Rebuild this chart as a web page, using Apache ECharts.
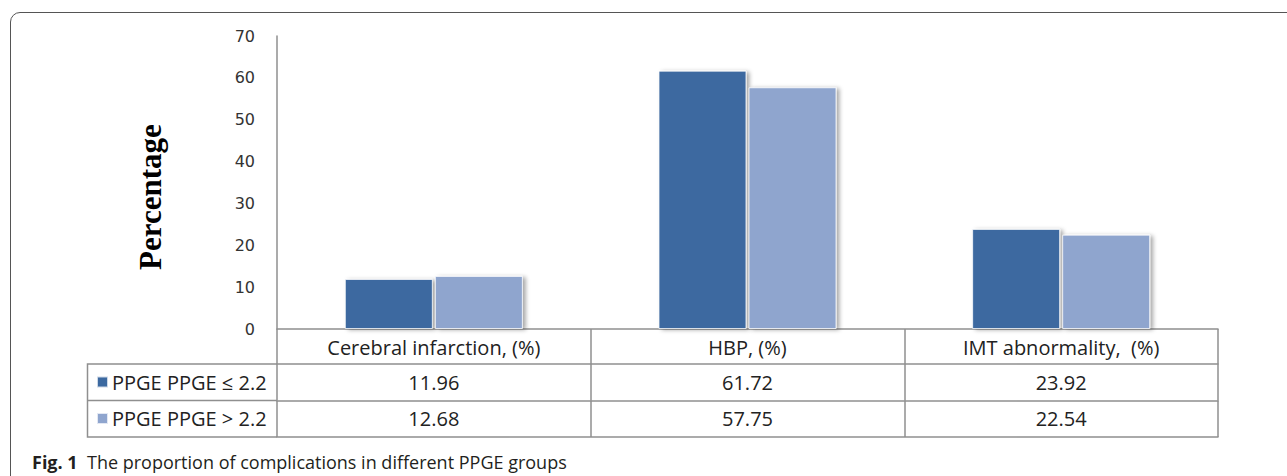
<!DOCTYPE html>
<html>
<head>
<meta charset="utf-8">
<script src="https://cdn.jsdelivr.net/npm/echarts@6/dist/echarts.min.js"></script>
<style>
  html, body { margin: 0; padding: 0; background: #fff; overflow: hidden; }
  #frame { position: absolute; left: 10px; top: 12px; width: 1400px; height: 600px;
           border: 1.5px solid #555; border-radius: 10px; box-sizing: border-box; }
  #chart { position: absolute; left: 0; top: 0; width: 1287px; height: 476px; }
</style>
</head>
<body>
<div id="frame"></div>
<div id="chart"></div>
<script>
const categories = ['Cerebral infarction, (%)', 'HBP, (%)', 'IMT abnormality,  (%)'];
const seriesNames = ['PPGE PPGE \u2264 2.2', 'PPGE PPGE > 2.2'];
const lowGroup = [11.96, 61.72, 23.92];
const highGroup = [12.68, 57.75, 22.54];
const yTicks = { min: 0, max: 70, interval: 10 };
const yTitle = 'Percentage';
const captionBold = 'Fig. 1';
const captionText = 'The proportion of complications in different PPGE groups';

const colors = ['#3C69A0', '#8FA5CE'];
const lineColor = '#8f8f8f';
const tableFont = { fontFamily: 'Open Sans', fontSize: 20, color: '#222' };

const chart = echarts.init(document.getElementById('chart'), null, { renderer: 'svg' });

function tableAxis(offset, values, showTicks) {
  return {
    type: 'category',
    data: categories,
    position: 'bottom',
    offset: offset,
    axisLine: { show: true, lineStyle: { color: lineColor, width: 1.5 } },
    axisTick: { show: showTicks, length: 36.5, lineStyle: { color: lineColor, width: 1.5 } },
    axisLabel: values ? Object.assign({
      margin: 18, verticalAlign: 'middle', interval: 0,
      formatter: (v, i) => values[i].toFixed(2)
    }, tableFont) : { show: false },
    splitLine: { show: false }
  };
}

const barStyle = (c) => ({
  color: c,
  borderColor: 'rgba(255,255,255,0.75)',
  borderWidth: 1,
  shadowColor: 'rgba(0,0,0,0.35)',
  shadowBlur: 4,
  shadowOffsetX: 3,
  shadowOffsetY: 1
});

chart.setOption({
  animation: false,
  title: {
    left: 27, top: 448,
    text: '{b|' + captionBold + '}  ' + captionText,
    textStyle: {
      fontFamily: 'Open Sans', fontSize: 18, fontWeight: 'normal', color: '#231f20',
      rich: { b: { fontFamily: 'Open Sans', fontSize: 18, fontWeight: 'bold', color: '#231f20' } }
    }
  },
  legend: {
    orient: 'vertical',
    left: 96, top: 371,
    padding: 0,
    itemGap: 14.5,
    itemWidth: 11, itemHeight: 11,
    icon: 'rect',
    data: seriesNames,
    selectedMode: false,
    textStyle: Object.assign({ lineHeight: 22, padding: [0, 0, 0, -1] }, tableFont)
  },
  grid: { left: 277, right: 69, top: 36, bottom: 147, outerBoundsMode: 'none' },
  xAxis: [
    {
      type: 'category',
      data: categories,
      position: 'bottom',
      axisLine: { show: true, lineStyle: { color: lineColor, width: 1.5 } },
      axisTick: { show: true, length: 35, lineStyle: { color: lineColor, width: 1.5 } },
      axisLabel: Object.assign({ margin: 18, verticalAlign: 'middle', interval: 0 }, tableFont)
    },
    tableAxis(35, lowGroup, true),
    tableAxis(71.5, highGroup, true),
    tableAxis(108, null, false)
  ],
  yAxis: {
    type: 'value',
    min: yTicks.min, max: yTicks.max, interval: yTicks.interval,
    name: yTitle,
    nameLocation: 'middle',
    nameRotate: 90,
    nameGap: 127,
    nameTextStyle: {
      fontFamily: 'Liberation Serif', fontWeight: 'bold', fontSize: 31, color: '#000',
      padding: [0, 29, 0, 0], verticalAlign: 'middle'
    },
    axisLine: { show: true, lineStyle: { color: lineColor, width: 1.5 } },
    axisTick: { show: false },
    splitLine: { show: false },
    axisLabel: { margin: 22, fontFamily: 'DejaVu Sans', fontSize: 16, color: '#333' }
  },
  graphic: [
    {
      type: 'polyline',
      shape: { points: [[277, 364], [87.5, 364], [87.5, 437], [277, 437]] },
      style: { stroke: lineColor, lineWidth: 1.5, fill: null }
    },
    {
      type: 'line',
      shape: { x1: 87.5, y1: 400.5, x2: 277, y2: 400.5 },
      style: { stroke: lineColor, lineWidth: 1.5 }
    }
  ],
  series: [
    {
      name: seriesNames[0], type: 'bar', data: lowGroup,
      barWidth: 88, barGap: '2.3%',
      itemStyle: barStyle(colors[0])
    },
    {
      name: seriesNames[1], type: 'bar', data: highGroup,
      barWidth: 88, barGap: '2.3%',
      itemStyle: barStyle(colors[1])
    }
  ],
  color: colors
});
</script>
</body>
</html>
